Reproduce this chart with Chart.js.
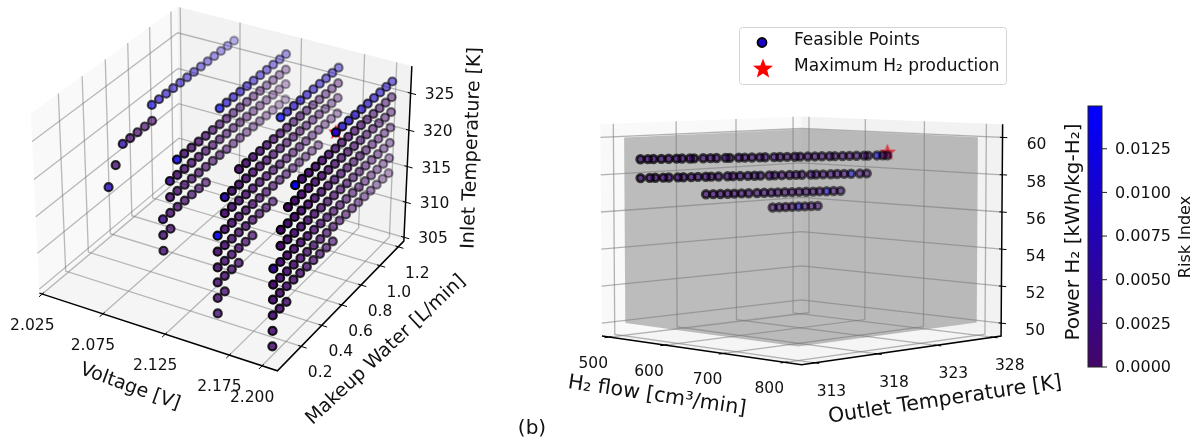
<!DOCTYPE html>
<html>
<head>
<meta charset="utf-8">
<title>Feasible points</title>
<style>
  html, body { margin: 0; background: #fff; }
  canvas { display: block; }
</style>
<script src="https://cdn.jsdelivr.net/npm/chart.js@4/dist/chart.umd.js"></script>
</head>
<body>
<canvas id="chart" width="1195" height="444"></canvas>
<script>
// panel (a): feasible grid, one row of water levels per voltage + inlet temperature
const voltages = [2.0735, 2.116, 2.158, 2.2];
const waterLevels = [0.07, 0.134, 0.198, 0.262, 0.326, 0.39, 0.454, 0.518, 0.582, 0.646, 0.71, 0.774, 0.838, 0.902, 0.966, 1.03, 1.094, 1.158, 1.222];
const tempLevels = [305.7, 307.8, 309.9, 312, 314, 316.1, 318.2, 320.3, 322.4, 324.4, 326.5];

// first / last water index of each temperature row, null = nothing feasible
const firstV1 = [null, null, null, null, null, null, null, 0, 1, 2, 6];
const lastV1 = [null, null, null, null, null, null, null, 0, 1, 6, 18];
const firstV2 = [null, null, null, null, 0, 0, 0, 1, 1, 2, 8];
const lastV2 = [null, null, null, null, 0, 1, 6, 18, 18, 18, 18];
const firstV3 = [null, 0, 0, 0, 0, 0, 0, 1, 1, 3, 9];
const lastV3 = [null, 0, 1, 3, 5, 8, 15, 18, 18, 18, 18];
const firstV4 = [0, 0, 0, 0, 0, 0, 1, 1, 2, 3, 9];
const lastV4 = [0, 0, 2, 9, 18, 18, 18, 18, 18, 18, 18];

// risk of the first point of each row, the others use restRisk
const riskV1 = [0, 0, 0, 0, 0, 0, 0, 0.008, 0.0008, 0.006, 0.012];
const riskV2 = [0, 0, 0, 0, 0.0008, 0.0006, 0.003, 0.0005, 0.004, 0.0125, 0.0135];
const riskV3 = [0, 0.0008, 0.0005, 0.0005, 0.0005, 0.0003, 0.014, 0.0004, 0.006, 0.0002, 0.0145];
const riskV4 = [0.0006, 0.0006, 0.0006, 0.0003, 0.0003, 0.004, 0.0001, 0.0001, 0.0002, 0.0145, 0.0148];
const restRisk = [0.0004, 0.0004, 0.0004, 0.0004, 0.0004, 0.0004, 0.0004, 0.0004, 0.0004, 0.0004, 0.009];

const bestA = [2.2, 0.646, 326.5];
const voltageTicks = [2.025, 2.075, 2.125, 2.175, 2.2];
const waterTicks = [0.2, 0.4, 0.6, 0.8, 1.0, 1.2];
const inletTicks = [305, 310, 315, 320, 325];

// panel (b): power levels, each with its flow / outlet temperature strip
const rowPower = [58.9, 57.9, 56.95, 56.1];
const row1Flow = [540, 544, 547, 552, 556, 561, 564, 569, 572, 577, 581, 585, 590, 593, 598, 602, 606, 611, 614, 619, 623, 627, 632, 635, 640, 644, 648, 653, 656, 661, 665, 669, 674, 677, 682, 686, 690];
const row1Outlet = [312.8, 313.2, 313.5, 313.9, 314.3, 314.7, 315.0, 315.4, 315.6, 316.1, 316.5, 316.8, 317.3, 317.5, 318.0, 318.3, 318.7, 319.1, 319.4, 319.9, 320.2, 320.6, 321.0, 321.3, 321.7, 322.1, 322.5, 322.9, 323.2, 323.6, 324.0, 324.4, 324.8, 325.0, 325.5, 325.8, 326.0];
const row2Flow = [540, 545, 548, 553, 556, 561, 564, 569, 572, 577, 580, 584, 589, 592, 596, 601, 604, 608, 613, 616, 620, 625, 628, 632, 637, 640, 644, 649, 652, 656, 660, 665, 669];
const row2Outlet = [312.8, 313.3, 313.6, 314.0, 314.3, 314.8, 315.1, 315.5, 315.9, 316.3, 316.6, 317.0, 317.5, 317.8, 318.2, 318.6, 319.0, 319.3, 319.8, 320.1, 320.5, 320.9, 321.3, 321.6, 322.1, 322.4, 322.8, 323.2, 323.6, 324.0, 324.4, 324.9, 325.3];
const row3Flow = [575, 579, 583, 587, 590, 594, 598, 602, 606, 610, 613, 617, 621, 625, 629, 633, 636, 640, 644, 648];
const row3Outlet = [316.4, 316.8, 317.2, 317.6, 318.0, 318.4, 318.8, 319.3, 319.7, 320.1, 320.5, 320.9, 321.3, 321.7, 322.1, 322.5, 322.9, 323.3, 323.7, 324.1];
const row4Flow = [602, 605, 608, 611, 614, 617, 620, 623];
const row4Outlet = [320.6, 321.0, 321.4, 321.8, 322.2, 322.6, 323.0, 323.4];
// which points of each strip look blue
const row1Blue = [34];
const row2Blue = [30];
const row3Blue = [17];
const row4Blue = [4];
const bestB = [690, 326, 59.05];
const flowTicks = [500, 600, 700, 800];
const outletTicks = [313, 318, 323, 328];
const powerTicks = [50, 52, 54, 56, 58, 60];

const riskTicks = [0, 0.0025, 0.005, 0.0075, 0.01, 0.0125];
const riskMax = 0.01495;

const FONT = '"DejaVu Sans"';
const lowColor = [68, 6, 104];
const highColor = [0, 0, 255];

function riskColor(risk, alpha) {
  const t = Math.min(1, risk / riskMax);
  const c = lowColor.map((v, i) => Math.round(v + (highColor[i] - v) * t));
  return `rgba(${c[0]},${c[1]},${c[2]},${alpha})`;
}

// same view maths as a matplotlib 3d axes (box aspect 4:4:3, dist 10)
function makeCamera(elev, azim, xLim, yLim, zLim, scale, cx, cy) {
  const e = elev * Math.PI / 180, a = azim * Math.PI / 180;
  const f = 1.8294640721620434 * 25 / 24 / Math.hypot(4, 4, 3);
  const box = [4 * f, 4 * f, 3 * f];
  const w = [Math.cos(e) * Math.cos(a), Math.cos(e) * Math.sin(a), Math.sin(e)];
  const h = Math.hypot(w[0], w[1]);
  const u = [-w[1] / h, w[0] / h, 0];
  const v = [w[1] * u[2] - w[2] * u[1], w[2] * u[0] - w[0] * u[2], w[0] * u[1] - w[1] * u[0]];
  const dot = (p, q) => p[0] * q[0] + p[1] * q[1] + p[2] * q[2];
  const project = p => {
    const q = [
      ((p[0] - xLim[0]) / (xLim[1] - xLim[0]) - 0.5) * box[0],
      ((p[1] - yLim[0]) / (yLim[1] - yLim[0]) - 0.5) * box[1],
      ((p[2] - zLim[0]) / (zLim[1] - zLim[0]) - 0.5) * box[2]
    ];
    const depth = 10 - dot(w, q);
    return { x: cx + scale * dot(u, q) / depth, y: cy - scale * dot(v, q) / depth, depth };
  };
  return { xLim, yLim, zLim, project };
}

const camA = makeCamera(30, -60, [2.0226, 2.2116], [-0.025, 1.262], [304.45, 328.6], 2290, 225, 180);
const camB = makeCamera(5, -45, [486.4, 825.4], [312, 328.76], [49.3, 60.7], 2380, 801.5, 230.6);

function lineDataset(cam, pts, color, width, order) {
  return {
    showLine: true, data: pts.map(p => { const q = cam.project(p); return { x: q.x, y: q.y }; }),
    borderColor: color, borderWidth: width, pointRadius: 0, order
  };
}

function axisDatasets(cam, xTicks, yTicks, zTicks, gridColor) {
  const [x0, x1] = cam.xLim, [y0, y1] = cam.yLim, [z0, z1] = cam.zLim;
  const xs = x1 - x0, ys = y1 - y0;
  const out = [];
  xTicks.forEach(t => {
    out.push(lineDataset(cam, [[t, y0, z0], [t, y1, z0], [t, y1, z1]], gridColor, 1.3, 5));
    out.push(lineDataset(cam, [[t, y0 - 0.022 * ys, z0], [t, y0 + 0.012 * ys, z0]], '#000', 1, 4));
  });
  yTicks.forEach(t => {
    out.push(lineDataset(cam, [[x1, t, z0], [x0, t, z0], [x0, t, z1]], gridColor, 1.3, 5));
    out.push(lineDataset(cam, [[x1 - 0.012 * xs, t, z0], [x1 + 0.022 * xs, t, z0]], '#000', 1, 4));
  });
  zTicks.forEach(t => {
    out.push(lineDataset(cam, [[x0, y0, t], [x0, y1, t], [x1, y1, t]], gridColor, 1.3, 5));
    out.push(lineDataset(cam, [[x1 - 0.012 * xs, y1, t], [x1 + 0.022 * xs, y1, t]], '#000', 1, 4));
  });
  out.push(lineDataset(cam, [[x0, y0, z0], [x1, y0, z0], [x1, y1, z0], [x1, y1, z1]], '#000', 1.5, 4));
  return out;
}

function starImage(r, color) {
  const c = document.createElement('canvas');
  c.width = c.height = Math.ceil(r * 2 + 2);
  const ctx = c.getContext('2d');
  starPath(ctx, c.width / 2, c.height / 2, r);
  ctx.fillStyle = color;
  ctx.fill();
  return c;
}

function starPath(ctx, x, y, r) {
  ctx.beginPath();
  for (let i = 0; i < 10; i++) {
    const rr = i % 2 ? r * 0.42 : r;
    const ang = -Math.PI / 2 + i * Math.PI / 5;
    ctx.lineTo(x + rr * Math.cos(ang), y + rr * Math.sin(ang));
  }
  ctx.closePath();
}

function markerDataset(cam, points, radius, border, top, fade) {
  const projected = points.map(p => ({ q: cam.project(p), risk: p[3] }));
  const ds = projected.map(p => p.q.depth);
  const lo = Math.min(...ds), hi = Math.max(...ds);
  projected.sort((a, b) => b.q.depth - a.q.depth);
  const alphas = projected.map(p => top - fade * (p.q.depth - lo) / (hi - lo));
  return {
    data: projected.map(p => ({ x: p.q.x, y: p.q.y })),
    pointRadius: radius,
    pointBorderWidth: border,
    pointBackgroundColor: projected.map((p, i) => riskColor(p.risk, alphas[i].toFixed(3))),
    pointBorderColor: alphas.map(a => `rgba(0,0,0,${a.toFixed(3)})`),
    order: 1
  };
}

function starDataset(cam, p, image) {
  const q = cam.project(p);
  return { data: [{ x: q.x, y: q.y }], pointRadius: 8, pointStyle: image, order: 2 };
}

// panel (a) points
const pointsA = [];
[[firstV1, lastV1, riskV1], [firstV2, lastV2, riskV2], [firstV3, lastV3, riskV3], [firstV4, lastV4, riskV4]].forEach((grp, g) => {
  tempLevels.forEach((t, i) => {
    if (grp[0][i] === null) return;
    for (let k = grp[0][i]; k <= grp[1][i]; k++) {
      pointsA.push([voltages[g], waterLevels[k], t, k === grp[0][i] ? grp[2][i] : restRisk[i]]);
    }
  });
});

// panel (b) points
const pointsB = [];
[[row1Flow, row1Outlet, row1Blue], [row2Flow, row2Outlet, row2Blue], [row3Flow, row3Outlet, row3Blue], [row4Flow, row4Outlet, row4Blue]].forEach((row, r) => {
  row[0].forEach((flow, i) => {
    pointsB.push([flow, row[1][i], rowPower[r], row[2].includes(i) ? 0.011 : 0.0012]);
  });
});

function fillPoly(chart, cam, pts, color) {
  const ctx = chart.ctx, sx = chart.scales.x, sy = chart.scales.y;
  ctx.beginPath();
  pts.forEach(p => {
    const q = cam.project(p);
    ctx.lineTo(sx.getPixelForValue(q.x), sy.getPixelForValue(q.y));
  });
  ctx.closePath();
  ctx.fillStyle = color;
  ctx.fill();
}

function drawPanes(chart, cam) {
  const [x0, x1] = cam.xLim, [y0, y1] = cam.yLim, [z0, z1] = cam.zLim;
  fillPoly(chart, cam, [[x0, y0, z0], [x0, y1, z0], [x0, y1, z1], [x0, y0, z1]], '#f9f9f9');
  fillPoly(chart, cam, [[x0, y1, z0], [x1, y1, z0], [x1, y1, z1], [x0, y1, z1]], '#f2f2f2');
  fillPoly(chart, cam, [[x0, y0, z0], [x1, y0, z0], [x1, y1, z0], [x0, y1, z0]], '#f5f5f5');
}

const panePlugin = {
  id: 'panes',
  beforeDatasetsDraw(chart) {
    drawPanes(chart, camA);
    drawPanes(chart, camB);
    // grey constraint box of panel (b), outline seen from this view
    const [fa, fb] = [506, 800], [oa, ob] = [313, 328], [pa, pb] = [50, 60];
    fillPoly(chart, camB, [[fa, oa, pb], [fa, ob, pb], [fb, ob, pb], [fb, ob, pa], [fb, oa, pa], [fa, oa, pa]], 'rgba(128,128,128,0.5)');
  }
};

function text(ctx, str, x, y, size, deg, align) {
  ctx.save();
  ctx.translate(x, y);
  ctx.rotate((deg || 0) * Math.PI / 180);
  ctx.font = `${size}px ${FONT}`;
  ctx.fillStyle = '#111';
  ctx.textAlign = align || 'center';
  ctx.textBaseline = 'middle';
  ctx.fillText(str, 0, 0);
  ctx.restore();
}

function tickLabels(ctx, cam, xTicks, yTicks, zTicks, fx, fy, off) {
  const [x0, x1] = cam.xLim, [y0, y1] = cam.yLim, [z0] = cam.zLim;
  xTicks.forEach(t => { const q = cam.project([t, y0, z0]); text(ctx, fx(t), q.x + off[0][0], q.y + off[0][1], 15.5); });
  yTicks.forEach(t => { const q = cam.project([x1, t, z0]); text(ctx, fy(t), q.x + off[1][0], q.y + off[1][1], 15.5); });
  zTicks.forEach(t => { const q = cam.project([x1, y1, t]); text(ctx, String(t), q.x + off[2][0], q.y + off[2][1], 15.5); });
}

const annotationPlugin = {
  id: 'annotations',
  afterDraw(chart) {
    const ctx = chart.ctx;
    tickLabels(ctx, camA, voltageTicks, waterTicks, inletTicks, t => t.toFixed(3), t => t.toFixed(1), [[-10, 32], [19, 27], [29, 2]]);
    tickLabels(ctx, camB, flowTicks, outletTicks, powerTicks, String, String, [[-16, 27], [17, 29], [34, 8]]);

    text(ctx, 'Voltage [V]', 130, 387, 19, 20);
    text(ctx, 'Makeup Water [L/min]', 386, 350, 19, -43);
    text(ctx, 'Inlet Temperature [K]', 472, 148, 19, -88);
    text(ctx, 'H\u2082 flow [cm\u00b3/min]', 657, 396, 20.5, 8.5);
    text(ctx, 'Outlet Temperature [K]', 945, 400, 20.5, -8.5);
    text(ctx, 'Power H\u2082 [kWh/kg-H\u2082]', 1074, 232, 20, -90);
    text(ctx, '(b)', 532, 429, 20);

    // legend
    ctx.beginPath();
    ctx.roundRect(739.5, 27.5, 267, 57, 3);
    ctx.fillStyle = 'rgba(255,255,255,0.8)';
    ctx.fill();
    ctx.strokeStyle = '#d4d4d4';
    ctx.lineWidth = 1;
    ctx.stroke();
    ctx.beginPath();
    ctx.arc(762, 42.5, 4.5, 0, Math.PI * 2);
    ctx.fillStyle = riskColor(0.0095, 1);
    ctx.fill();
    ctx.strokeStyle = '#000';
    ctx.lineWidth = 1.8;
    ctx.stroke();
    starPath(ctx, 763, 69, 10.5);
    ctx.fillStyle = '#f00';
    ctx.fill();
    text(ctx, 'Feasible Points', 794, 41, 17, 0, 'left');
    text(ctx, 'Maximum H\u2082 production', 794, 67, 17, 0, 'left');

    // colour bar
    const barX = 1088, barW = 14, barTop = 106, barBottom = 367;
    const grad = ctx.createLinearGradient(0, barBottom, 0, barTop);
    grad.addColorStop(0, riskColor(0, 1));
    grad.addColorStop(1, riskColor(riskMax, 1));
    ctx.fillStyle = grad;
    ctx.fillRect(barX, barTop, barW, barBottom - barTop);
    ctx.strokeStyle = '#222';
    ctx.lineWidth = 1;
    ctx.strokeRect(barX, barTop, barW, barBottom - barTop);
    riskTicks.forEach(t => {
      const y = barBottom - (barBottom - barTop) * t / riskMax;
      ctx.beginPath();
      ctx.moveTo(barX + barW, y);
      ctx.lineTo(barX + barW + 5, y);
      ctx.stroke();
      text(ctx, t.toFixed(4), 1115, y + 1, 16, 0, 'left');
    });
    text(ctx, 'Risk Index', 1186, 237, 16, -90);
  }
};

new Chart(document.getElementById('chart'), {
  type: 'scatter',
  data: {
    datasets: [
      ...axisDatasets(camA, voltageTicks, waterTicks, inletTicks, 'rgba(120,120,120,0.5)'),
      ...axisDatasets(camB, flowTicks, outletTicks, powerTicks, 'rgba(120,120,120,0.55)'),
      markerDataset(camA, pointsA, 4, 2.2, 1, 0.7),
      markerDataset(camB, pointsB, 3.7, 3, 0.72, 0.2),
      starDataset(camA, bestA, starImage(8, '#f00')),
      starDataset(camB, bestB, starImage(9, 'rgba(225,30,50,0.85)'))
    ]
  },
  options: {
    responsive: false,
    animation: false,
    devicePixelRatio: 1,
    events: [],
    layout: { padding: 0, autoPadding: false },
    clip: false,
    scales: {
      x: { type: 'linear', min: 0, max: 1195, display: false },
      y: { type: 'linear', min: 0, max: 444, reverse: true, display: false }
    },
    plugins: { legend: { display: false }, tooltip: { enabled: false } }
  },
  plugins: [panePlugin, annotationPlugin]
});
</script>
</body>
</html>
